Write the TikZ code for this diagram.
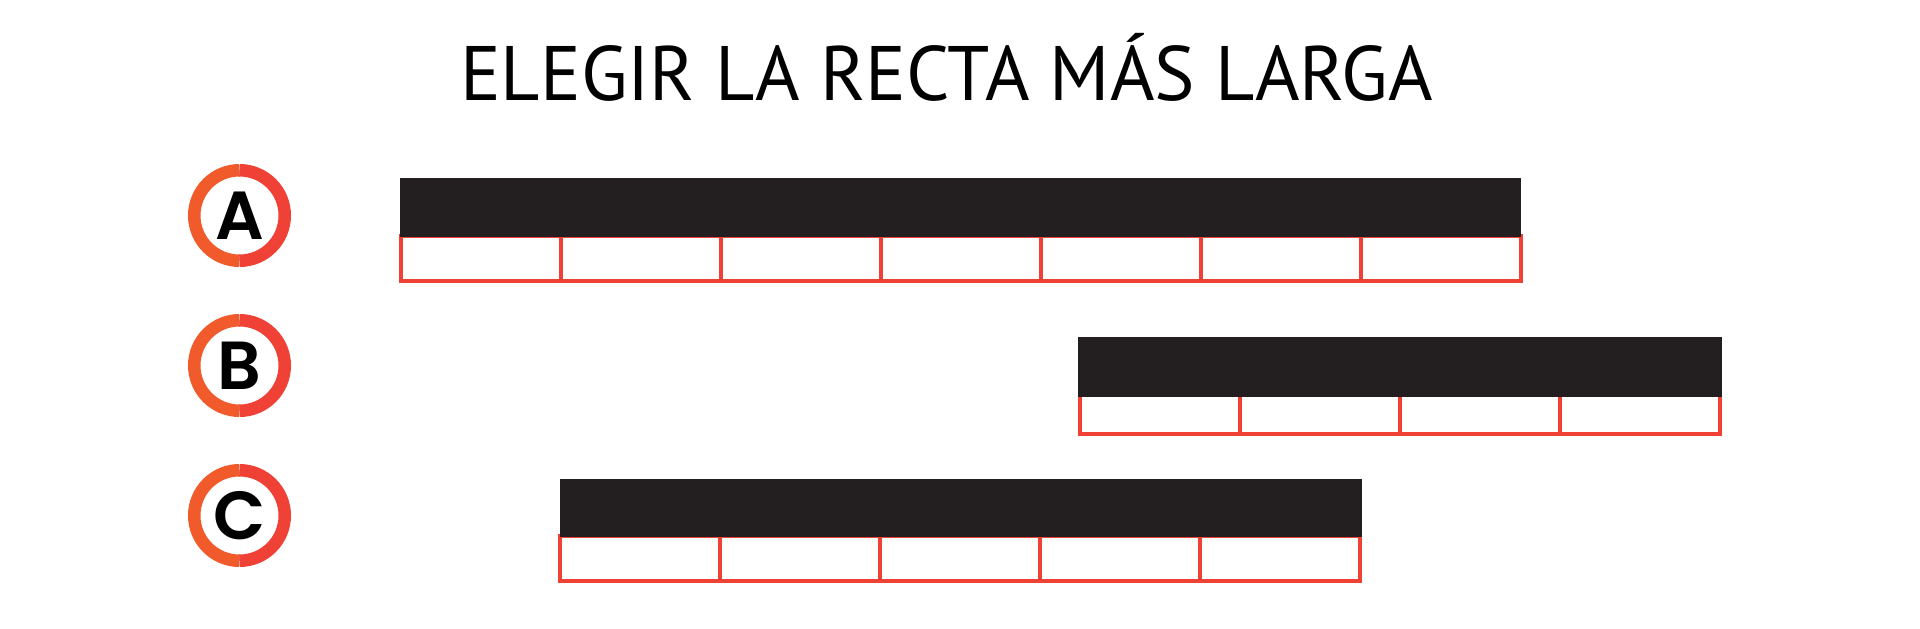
\documentclass[tikz,border=0pt]{standalone}
\usepackage{fontspec}
\usepackage{graphicx}
\newfontfamily\titlefont{PT Sans}
\newfontfamily\letterfont{Poppins}[UprightFont=* SemiBold]
\definecolor{ringorange}{HTML}{F15A2B}
\definecolor{ringred}{HTML}{EF4136}
\definecolor{cellred}{HTML}{EF4136}
\definecolor{barblack}{HTML}{231F20}
\tikzset{
  ringL/.style={draw=ringorange, line width=6.25pt},
  ringR/.style={draw=ringred, line width=6.25pt},
  letterlabel/.style={anchor=base, inner sep=0pt, font=\letterfont\fontsize{34pt}{34pt}\selectfont},
  holder/.style={circle, minimum size=51.5pt, inner sep=0pt},
  barfill/.style={fill=barblack},
  cellline/.style={draw=cellred, line width=1.75pt}
}
\begin{document}
\begin{tikzpicture}[x=0.5pt,y=-0.5pt]
\useasboundingbox (0,0) rectangle (1920,628);
% title
\node[anchor=base, inner sep=0pt] (title) at (946.5,100.4)
  {\resizebox{486.5pt}{\height}{\titlefont\fontsize{38.6pt}{40pt}\selectfont ELEGIR LA RECTA MÁS LARGA}};
% circles
\foreach \name/\cy/\lab in {ca/215.5/A, cb/365.5/B, cc/515.5/C}{
  \node[holder] (\name) at (239.5,\cy) {};
  \draw[ringL] (\name.center) ++(0,45.25) arc[start angle=90,end angle=270,radius=45.25];
  \draw[ringR] (\name.center) ++(0,-45.25) arc[start angle=-90,end angle=90,radius=45.25];
  \node[letterlabel] (\name-l) at (239.5,\cy+24) {\lab};
}
% bar A
\foreach \x in {401,561,721,881,1041,1201,1361}{
  \draw[cellline] (\x,236) rectangle ++(160,45);
}
\fill[barfill] (400,178) rectangle (1521,236.5);
% bar B
\foreach \x in {1080,1240,1400,1560}{
  \draw[cellline] (\x,395) rectangle ++(160,39);
}
\fill[barfill] (1078,337) rectangle (1722,396.5);
% bar C
\foreach \x in {560,720,880,1040,1200}{
  \draw[cellline] (\x,536) rectangle ++(160,45);
}
\fill[barfill] (560,478.5) rectangle (1362,536.5);
\end{tikzpicture}
\end{document}
